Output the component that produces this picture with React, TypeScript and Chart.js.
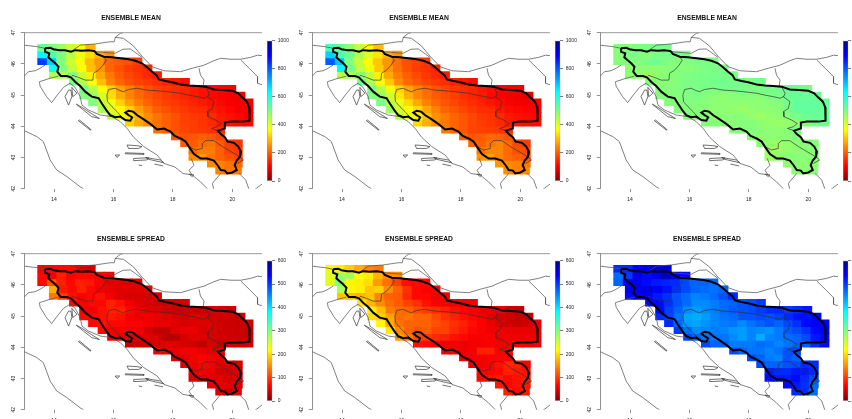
import React, { useEffect, useRef } from "react";
import { Chart, registerables } from "chart.js";

Chart.register(...registerables);

const xTickValues = [14, 16, 18, 20];
const yTickValues = [42, 43, 44, 45, 46, 47];
const meanBarTicks = [0, 200, 400, 600, 800, 1000];
const spreadBarTicks = [0, 100, 200, 300, 400, 500, 600];

const rowWest = [13.45, 13.45, 13.45, 13.84, 13.84, 14.52, 14.86, 14.86, 15.16, 15.48, 15.8, 16.4, 17.35, 17.95, 18.26, 18.54, 18.54, 19.16, 19.44];
const rowEast = [15.39, 16.02, 16.96, 17.3, 17.62, 18.56, 20.12, 20.43, 20.7, 20.7, 20.7, 20.7, 19.74, 19.74, 20.34, 20.34, 20.34, 20.34, 20.31];
const latTop = 46.63;
const latStep = 0.219;

const meanA = [
  [520, 500, 470, 420, 380, 290],
  [640, 560, 500, 440, 380, 330, 290, 260],
  [830, 680, 500, 420, 370, 300, 260, 210, 200, 190, 170],
  [620, 500, 430, 370, 300, 260, 210, 190, 170, 160, 150],
  [450, 450, 490, 420, 350, 280, 230, 200, 180, 165, 150, 135],
  [510, 440, 370, 300, 240, 210, 190, 175, 165, 155, 145, 130, 120],
  [510, 440, 370, 320, 270, 240, 210, 190, 175, 165, 155, 145, 135, 125, 120, 110, 105],
  [500, 480, 410, 330, 280, 240, 215, 195, 180, 165, 155, 145, 135, 125, 115, 110, 100, 100],
  [500, 430, 380, 320, 270, 235, 210, 190, 175, 165, 155, 145, 135, 125, 115, 105, 100, 100],
  [460, 400, 360, 320, 270, 235, 205, 190, 175, 165, 155, 150, 135, 125, 115, 105, 105],
  [430, 380, 340, 290, 250, 225, 205, 190, 175, 165, 160, 150, 135, 125, 115, 105],
  [320, 280, 250, 225, 205, 190, 175, 170, 160, 150, 135, 125, 120, 115],
  [220, 205, 190, 180, 170, 165, 160, 150],
  [200, 190, 195, 205, 200, 180],
  [200, 200, 215, 225, 200, 170, 160],
  [215, 235, 235, 205, 175, 165],
  [250, 260, 225, 205, 190, 180],
  [250, 240, 225, 215],
  [240, 225, 230],
];

const meanB = [
  [560, 530, 490, 430, 360, 300],
  [680, 560, 520, 450, 400, 340, 290, 260],
  [800, 690, 500, 430, 370, 310, 260, 220, 190, 175, 165],
  [640, 510, 430, 380, 310, 260, 220, 190, 170, 160, 145],
  [440, 450, 490, 430, 350, 280, 235, 205, 185, 165, 150, 135],
  [520, 450, 370, 310, 250, 215, 195, 180, 165, 155, 145, 130, 120],
  [510, 440, 380, 320, 275, 245, 215, 195, 180, 165, 155, 145, 130, 120, 110, 100, 95],
  [500, 480, 420, 340, 285, 245, 220, 200, 185, 170, 155, 145, 135, 120, 110, 100, 95, 90],
  [510, 440, 390, 330, 280, 240, 215, 195, 180, 165, 155, 145, 130, 120, 110, 100, 100, 105],
  [470, 410, 370, 330, 275, 240, 210, 195, 180, 165, 155, 150, 130, 120, 115, 110, 110],
  [440, 390, 350, 300, 255, 230, 210, 195, 180, 165, 160, 150, 135, 125, 120, 115],
  [330, 285, 255, 230, 210, 195, 180, 170, 160, 150, 135, 130, 125, 120],
  [230, 210, 195, 180, 175, 170, 165, 155],
  [210, 195, 200, 215, 210, 190],
  [210, 205, 225, 240, 215, 180, 170],
  [225, 245, 245, 215, 190, 185],
  [260, 270, 240, 215, 205, 195],
  [260, 250, 240, 230],
  [250, 240, 245],
];

const meanC = [
  [495, 495, 505, 505, 510, 510],
  [490, 505, 505, 495, 505, 510, 510, 505],
  [495, 495, 495, 505, 520, 505, 495, 500, 505, 505, 505],
  [485, 490, 485, 485, 490, 495, 490, 495, 505, 505, 510],
  [485, 485, 470, 485, 490, 495, 500, 505, 505, 510, 510, 505],
  [495, 490, 490, 495, 505, 505, 510, 515, 515, 510, 510, 505, 510],
  [495, 495, 500, 505, 505, 505, 505, 510, 515, 510, 505, 505, 510, 515, 520, 520, 515],
  [495, 495, 495, 500, 505, 495, 490, 485, 490, 495, 495, 495, 505, 510, 520, 525, 525, 520],
  [495, 495, 500, 495, 490, 485, 485, 485, 485, 485, 485, 490, 495, 510, 530, 530, 530, 525],
  [495, 495, 495, 490, 485, 485, 480, 475, 480, 485, 485, 490, 510, 530, 530, 530, 525],
  [495, 495, 490, 485, 490, 490, 490, 480, 470, 480, 485, 490, 510, 520, 525, 525],
  [495, 490, 490, 490, 495, 495, 485, 480, 475, 480, 485, 495, 510, 520],
  [490, 495, 495, 490, 485, 485, 490, 505],
  [490, 485, 485, 485, 490, 495],
  [490, 480, 470, 480, 485, 490, 495],
  [470, 470, 480, 485, 490, 490],
  [470, 485, 490, 490, 490, 490],
  [480, 485, 485, 485],
  [485, 485, 490],
];

const spreadA = [
  [65, 70, 70, 70, 50, 45],
  [70, 60, 85, 65, 70, 70, 65, 60],
  [70, 115, 85, 70, 85, 80, 65, 50, 50, 45, 50],
  [170, 80, 70, 85, 70, 60, 55, 50, 50, 50, 50],
  [140, 100, 75, 65, 70, 75, 60, 50, 45, 45, 45, 50],
  [70, 65, 70, 70, 85, 75, 60, 50, 45, 42, 40, 42, 45],
  [60, 60, 75, 85, 85, 70, 55, 50, 48, 42, 38, 38, 38, 38, 45, 45, 40],
  [70, 70, 75, 80, 75, 60, 55, 60, 55, 50, 45, 42, 45, 48, 42, 42, 40, 40],
  [70, 75, 70, 70, 65, 65, 60, 55, 55, 50, 45, 48, 50, 48, 40, 40, 38, 42],
  [70, 60, 60, 60, 60, 45, 35, 35, 50, 55, 55, 45, 45, 42, 42, 38, 38],
  [60, 55, 50, 50, 50, 45, 30, 28, 45, 50, 50, 45, 42, 42, 40, 38],
  [35, 38, 42, 45, 50, 50, 45, 42, 32, 45, 35, 42, 40, 42],
  [60, 55, 55, 60, 60, 55, 50, 48],
  [50, 50, 60, 65, 60, 55],
  [50, 55, 65, 60, 50, 45, 42],
  [55, 60, 55, 42, 42, 45],
  [45, 50, 50, 50, 45, 48],
  [55, 50, 50, 50],
  [48, 40, 50],
];

const spreadB = [
  [215, 210, 190, 170, 150, 140],
  [240, 280, 280, 225, 210, 175, 150, 150],
  [235, 300, 215, 210, 200, 160, 135, 105, 75, 70, 70],
  [270, 215, 210, 185, 190, 150, 125, 95, 70, 65, 65],
  [185, 180, 175, 185, 145, 125, 120, 90, 70, 70, 60, 60],
  [205, 175, 150, 130, 120, 105, 95, 75, 65, 60, 58, 58, 60],
  [210, 180, 140, 130, 125, 110, 100, 95, 85, 75, 68, 62, 55, 55, 55, 40, 35],
  [200, 190, 165, 130, 135, 125, 125, 110, 95, 85, 75, 68, 60, 50, 42, 40, 35, 35],
  [215, 170, 135, 125, 125, 125, 115, 105, 95, 85, 75, 65, 55, 45, 40, 38, 42, 55],
  [205, 150, 125, 115, 120, 105, 105, 90, 80, 70, 65, 58, 58, 55, 55, 55, 55],
  [160, 135, 110, 100, 90, 85, 75, 70, 62, 62, 62, 58, 58, 58, 58, 58],
  [75, 70, 65, 60, 60, 55, 60, 60, 62, 58, 62, 62, 58, 58],
  [58, 60, 58, 60, 85, 85, 65, 62],
  [58, 60, 62, 65, 65, 65],
  [55, 60, 65, 75, 90, 85, 65],
  [70, 65, 70, 85, 80, 75],
  [68, 75, 80, 70, 75, 80],
  [80, 68, 75, 80],
  [85, 70, 80],
];

const spreadC = [
  [510, 510, 540, 545, 555, 555],
  [470, 500, 550, 530, 545, 575, 550, 530],
  [475, 540, 545, 530, 520, 515, 510, 490, 475, 475, 470],
  [540, 545, 555, 540, 525, 505, 490, 475, 470, 465, 475],
  [530, 540, 535, 520, 505, 485, 470, 455, 460, 470, 485, 510],
  [530, 530, 505, 485, 470, 450, 450, 460, 470, 475, 485, 490, 500],
  [530, 495, 475, 450, 440, 450, 460, 470, 480, 485, 490, 500, 510, 510, 500, 510, 520],
  [510, 495, 465, 435, 430, 440, 455, 465, 470, 485, 485, 490, 485, 495, 510, 525, 525, 530],
  [510, 475, 440, 435, 445, 455, 460, 465, 450, 465, 475, 485, 475, 490, 505, 530, 540, 535],
  [500, 470, 450, 455, 460, 455, 445, 440, 455, 450, 445, 460, 480, 490, 505, 530, 540],
  [490, 475, 465, 465, 465, 450, 440, 455, 430, 455, 460, 470, 475, 490, 520, 530],
  [490, 475, 475, 460, 460, 460, 470, 465, 455, 465, 475, 480, 510, 530],
  [490, 475, 465, 465, 455, 465, 485, 490],
  [490, 475, 460, 455, 485, 475],
  [490, 475, 475, 485, 490, 510, 510],
  [520, 510, 510, 520, 520, 510],
  [530, 520, 520, 530, 510, 490],
  [530, 520, 505, 470],
  [510, 510, 470],
];

const basinOutline = [
  [13.7, 46.5], [13.87, 46.52], [13.98, 46.47], [14.18, 46.44], [14.37, 46.44], [14.57, 46.39], [14.71, 46.44], [14.94, 46.42], [15.16, 46.44], [15.36, 46.41], [15.44, 46.32], [15.67, 46.23], [15.95, 46.21], [16.23, 46.18], [16.51, 46.15], [16.74, 46.1], [16.96, 46.02], [17.13, 45.89], [17.3, 45.75], [17.45, 45.64], [17.53, 45.5], [17.75, 45.45], [17.98, 45.41], [18.26, 45.34], [18.54, 45.31], [18.82, 45.29], [19.1, 45.27], [19.38, 45.18], [19.67, 45.16], [20.0, 45.14], [20.2, 45.06], [20.34, 44.92], [20.49, 44.79], [20.57, 44.61], [20.59, 44.36], [20.57, 44.18], [20.34, 44.15], [19.95, 44.15], [19.75, 44.12], [19.75, 43.93], [19.52, 43.86], [19.61, 43.75], [19.75, 43.65], [19.84, 43.51], [20.06, 43.47], [20.2, 43.35], [20.29, 43.19], [20.26, 43.03], [20.15, 42.9], [20.08, 42.76], [20.15, 42.6], [20.0, 42.52], [19.83, 42.49], [19.75, 42.58], [19.61, 42.6], [19.5, 42.76], [19.38, 42.9], [19.16, 42.97], [18.93, 42.97], [18.71, 43.11], [18.54, 43.35], [18.43, 43.51], [18.26, 43.61], [18.06, 43.69], [17.92, 43.83], [17.7, 43.93], [17.47, 43.9], [17.25, 44.07], [17.02, 44.22], [16.79, 44.36], [16.66, 44.47], [16.51, 44.5], [16.4, 44.44], [16.51, 44.36], [16.63, 44.29], [16.57, 44.18], [16.4, 44.2], [16.23, 44.31], [16.06, 44.29], [15.89, 44.36], [15.76, 44.52], [15.61, 44.73], [15.5, 44.9], [15.27, 44.95], [15.05, 45.11], [14.88, 45.29], [14.71, 45.43], [14.57, 45.57], [14.43, 45.61], [14.23, 45.61], [14.11, 45.75], [14.15, 45.91], [14.04, 46.02], [13.92, 46.12], [13.81, 46.21], [13.84, 46.34], [13.7, 46.39], [13.7, 46.5],
];

const subBasins = [
  [[15.67, 46.23], [15.76, 46.12], [15.65, 45.96], [15.5, 45.8], [15.33, 45.7], [15.31, 45.48], [15.05, 45.48], [14.82, 45.57], [14.6, 45.64]],
  [[16.29, 44.29], [16.12, 44.47], [15.95, 44.63], [15.8, 44.79], [15.78, 45.0], [15.84, 45.18], [16.06, 45.22], [16.23, 45.14], [16.34, 45.11], [16.51, 45.18], [16.79, 45.22], [17.13, 45.16], [17.47, 45.14], [17.81, 45.11], [18.26, 45.06], [18.54, 45.0], [18.82, 44.95], [19.05, 44.9], [19.16, 44.95], [19.38, 44.79], [19.33, 44.57], [19.16, 44.47], [19.18, 44.31], [19.44, 44.2], [19.63, 44.09], [19.5, 43.99], [19.3, 43.93], [19.52, 43.86]],
  [[19.1, 45.27], [19.22, 45.06], [19.16, 44.93]],
  [[18.54, 43.35], [18.77, 43.24], [18.99, 43.29], [18.99, 43.45], [19.1, 43.54], [19.38, 43.54], [19.67, 43.35], [20.06, 43.13], [20.29, 43.0], [20.38, 42.92], [20.17, 42.81]],
];

const borders = [
  [[13.0, 46.6], [13.45, 46.55], [13.7, 46.5]],
  [[14.57, 46.39], [14.88, 46.6], [15.39, 46.64], [15.89, 46.71], [16.03, 46.71], [16.06, 46.85], [16.23, 46.98], [16.32, 47.0]],
  [[16.06, 46.85], [16.34, 46.82], [16.68, 46.57], [16.96, 46.25], [17.3, 45.91], [17.7, 45.78], [18.26, 45.75], [18.65, 45.86], [19.05, 45.96], [19.38, 46.1], [19.61, 46.18], [19.95, 46.15], [20.29, 46.15], [20.62, 46.21], [20.85, 46.28], [21.03, 46.26]],
  [[15.39, 46.39], [16.06, 46.34], [16.32, 46.47], [16.57, 46.48], [16.96, 46.21]],
  [[18.88, 45.86], [18.93, 45.64], [19.05, 45.48], [19.02, 45.29]],
  [[20.29, 46.12], [20.57, 45.86], [20.85, 45.59], [20.85, 45.38], [21.03, 45.32]],
  [[13.0, 45.61], [13.14, 45.75], [13.36, 45.78], [13.53, 45.86], [13.7, 45.96]],
  [[13.53, 45.29], [13.51, 45.43], [13.87, 45.54], [14.15, 45.61]],
  [[13.53, 45.29], [13.75, 44.95], [13.92, 44.76], [14.11, 45.0], [14.32, 45.25], [14.54, 45.38], [14.71, 45.25], [14.88, 44.95], [14.94, 44.68], [15.16, 44.52], [15.56, 44.36], [15.95, 44.31], [16.23, 44.15], [16.46, 43.93], [16.68, 43.65], [17.02, 43.35], [17.47, 43.08], [17.7, 42.81], [18.06, 42.7], [18.34, 42.49], [18.65, 42.44], [18.93, 42.22], [19.16, 42.0]],
  [[13.0, 43.86], [13.42, 43.67], [13.64, 43.51], [13.87, 42.92], [14.09, 42.6], [14.43, 42.39], [14.88, 42.06], [14.99, 42.0]],
  [[19.38, 41.96], [19.33, 42.17], [19.61, 42.49]],
  [[20.23, 42.49], [20.45, 42.28], [20.57, 41.96]],
  [[20.74, 41.96], [20.96, 42.12], [21.03, 42.17]],
  [[18.62, 42.97], [18.71, 42.75], [18.54, 42.59], [18.65, 42.44]],
];

const islands = [
  [[14.49, 45.16], [14.37, 44.95], [14.49, 44.68], [14.6, 44.95], [14.57, 45.16], [14.49, 45.16]],
  [[14.6, 45.25], [14.77, 45.06], [14.63, 44.95], [14.6, 45.25]],
  [[14.75, 44.71], [14.99, 44.52], [15.27, 44.31], [15.53, 44.25], [15.22, 44.43], [14.94, 44.61], [14.75, 44.71]],
  [[14.82, 44.18], [15.22, 43.88], [15.24, 43.9], [14.86, 44.2], [14.82, 44.18]],
  [[16.46, 43.4], [16.79, 43.38], [16.96, 43.35], [16.85, 43.29], [16.51, 43.29], [16.46, 43.4]],
  [[16.4, 43.15], [17.02, 43.13], [17.02, 43.1], [16.4, 43.12], [16.4, 43.15]],
  [[16.68, 42.97], [17.19, 42.99], [17.13, 42.92], [16.68, 42.9], [16.68, 42.97]],
  [[16.06, 43.08], [16.21, 43.08], [16.12, 43.0], [16.06, 43.08]],
  [[17.08, 43.0], [17.58, 42.92], [17.7, 42.83], [17.19, 42.94], [17.08, 43.0]],
  [[17.38, 42.79], [17.67, 42.73]],
  [[16.85, 42.76], [16.96, 42.74]],
  [[18.54, 42.47], [18.71, 42.44], [18.65, 42.39], [18.54, 42.47]],
];

const frameTop = [[13, 47], [21, 47]];

const rampStops: [number, number[]][] = [
  [0, [128, 0, 0]],
  [0.11, [255, 0, 0]],
  [0.365, [255, 255, 0]],
  [0.5, [128, 255, 128]],
  [0.635, [0, 255, 255]],
  [0.89, [0, 0, 255]],
  [1, [0, 0, 143]],
];

function rampColor(t: number): string {
  const v = Math.max(0, Math.min(1, t));
  for (let i = 1; i < rampStops.length; i++) {
    const [t1, c1] = rampStops[i];
    const [t0, c0] = rampStops[i - 1];
    if (v <= t1) {
      const f = (v - t0) / (t1 - t0);
      return `rgb(${c0.map((c, k) => Math.round(c + (c1[k] - c) * f)).join(",")})`;
    }
  }
  return "rgb(0,0,143)";
}

const FONT = "'Liberation Sans', Arial, sans-serif";
const PLOT_RIGHT_PAD = 24;
const PX_PER_LON = 29.7;

function lineDataset(points: number[][], color: string, width: number, order: number, clip?: boolean) {
  return {
    type: "line" as const,
    data: points.map(([x, y]) => ({ x, y })),
    borderColor: color,
    backgroundColor: color,
    borderWidth: width,
    pointRadius: 0,
    tension: 0,
    fill: false,
    order,
    ...(clip === false ? { clip: false } : {}),
  };
}

function cellDatasets(rows: number[][], max: number) {
  return rows.map((vals, r) => {
    const step = (rowEast[r] - rowWest[r]) / vals.length;
    return {
      type: "bar" as const,
      data: vals.map((_, c) => ({
        x: rowWest[r] + step * (c + 0.5),
        y: [latTop - latStep * (r + 1), latTop - latStep * r],
      })),
      backgroundColor: vals.map((v) => rampColor(v / max)),
      borderWidth: 0,
      barThickness: step * PX_PER_LON,
      grouped: false,
      inflateAmount: 0.35,
      order: 10,
    };
  });
}

function MapPanel({ title, rows, max, left, top }: { title: string; rows: number[][]; max: number; left: number; top: number }) {
  const ref = useRef<HTMLCanvasElement>(null);
  useEffect(() => {
    const chart = new Chart(ref.current as HTMLCanvasElement, {
      type: "bar",
      data: {
        datasets: [
          lineDataset(basinOutline, "#000000", 2, 0),
          ...subBasins.map((s) => lineDataset(s, "#333333", 0.7, 1)),
          ...borders.map((s) => lineDataset(s, "#555555", 0.75, 2)),
          ...islands.map((s) => lineDataset(s, "#333333", 0.7, 2)),
          lineDataset(frameTop, "#909090", 0.9, 3, false),
          ...cellDatasets(rows, max),
        ] as any,
      },
      options: {
        responsive: false,
        animation: false,
        events: [],
        layout: { padding: { top: 0, left: 0, right: PLOT_RIGHT_PAD, bottom: 0 } },
        plugins: {
          legend: { display: false },
          tooltip: { enabled: false },
          title: {
            display: true,
            text: title,
            color: "#111111",
            font: { family: FONT, size: 6.8, weight: "bold", lineHeight: 1.2 },
            padding: { top: 14.2, bottom: 10.34 },
          },
        },
        scales: {
          x: {
            type: "linear",
            min: 13,
            max: 21,
            offset: false,
            afterBuildTicks: (s: any) => {
              s.ticks = xTickValues.map((value) => ({ value }));
            },
            afterFit: (s: any) => {
              s.height = 21.3;
            },
            grid: { display: true, drawOnChartArea: false, drawTicks: true, tickLength: 3.5, color: "#666666", lineWidth: 0.7, offset: false },
            border: { display: false },
            ticks: {
              color: "#222222",
              font: { family: FONT, size: 5 },
              padding: 4,
              maxRotation: 0,
              minRotation: 0,
              autoSkip: false,
              callback: (v: any) => String(v),
            },
          },
          y: {
            type: "linear",
            min: 42,
            max: 47,
            beginAtZero: false,
            afterBuildTicks: (s: any) => {
              s.ticks = yTickValues.map((value) => ({ value }));
            },
            afterFit: (s: any) => {
              s.width = 24.3;
            },
            grid: { display: true, drawOnChartArea: false, drawTicks: true, tickLength: 3.6, color: "#777777", lineWidth: 0.8 },
            border: { display: true, color: "#909090", width: 1 },
            ticks: {
              color: "#222222",
              font: { family: FONT, size: 5 },
              padding: 3.9,
              minRotation: 90,
              maxRotation: 90,
              crossAlign: "center",
              autoSkip: false,
              callback: (v: any) => String(v),
            },
          },
        },
      } as any,
    });
    return () => chart.destroy();
  }, [title, rows, max]);
  return (
    <canvas
      ref={ref}
      width={286}
      height={210}
      style={{ position: "absolute", left, top, width: 286, height: 210, filter: "blur(0.4px)" }}
    />
  );
}

function ColorBar({ max, ticks, left, top }: { max: number; ticks: number[]; left: number; top: number }) {
  const ref = useRef<HTMLCanvasElement>(null);
  useEffect(() => {
    const chart = new Chart(ref.current as HTMLCanvasElement, {
      type: "bar",
      data: {
        labels: [""],
        datasets: [
          {
            data: [[0, max]],
            barPercentage: 1,
            categoryPercentage: 1,
            borderWidth: 0.8,
            borderSkipped: false,
            borderColor: "#9a9a9a",
            backgroundColor: (c: any) => {
              const area = c.chart.chartArea;
              if (!area) return "#000000";
              const g = c.chart.ctx.createLinearGradient(0, area.bottom, 0, area.top);
              rampStops.forEach(([t, rgb]) => g.addColorStop(t, `rgb(${rgb.join(",")})`));
              return g;
            },
          },
        ],
      },
      options: {
        responsive: false,
        animation: false,
        events: [],
        layout: { padding: { top: 6.7, bottom: 13, left: 5, right: 0.7 } },
        plugins: { legend: { display: false }, tooltip: { enabled: false } },
        scales: {
          x: { display: false },
          y: {
            position: "right",
            min: 0,
            max,
            afterBuildTicks: (s: any) => {
              s.ticks = ticks.map((value) => ({ value }));
            },
            afterFit: (s: any) => {
              s.width = 30;
            },
            grid: { display: true, drawOnChartArea: false, drawTicks: true, tickLength: 2.8, color: "#444444", lineWidth: 0.7 },
            border: { display: false },
            ticks: {
              color: "#222222",
              font: { family: FONT, size: 5 },
              padding: 2.7,
              autoSkip: false,
              callback: (v: any) => String(v),
            },
          },
        },
      } as any,
    });
    return () => chart.destroy();
  }, [max, ticks]);
  return (
    <canvas
      ref={ref}
      width={41}
      height={160}
      style={{ position: "absolute", left, top, width: 41, height: 160, filter: "blur(0.4px)" }}
    />
  );
}

const panels = [
  { title: "ENSEMBLE MEAN", rows: meanA, max: 1000, ticks: meanBarTicks, left: 0, top: 0, barTop: 34 },
  { title: "ENSEMBLE MEAN", rows: meanB, max: 1000, ticks: meanBarTicks, left: 288, top: 0, barTop: 34 },
  { title: "ENSEMBLE MEAN", rows: meanC, max: 1000, ticks: meanBarTicks, left: 576, top: 0, barTop: 34 },
  { title: "ENSEMBLE SPREAD", rows: spreadA, max: 600, ticks: spreadBarTicks, left: 0, top: 221, barTop: 254 },
  { title: "ENSEMBLE SPREAD", rows: spreadB, max: 600, ticks: spreadBarTicks, left: 288, top: 221, barTop: 254 },
  { title: "ENSEMBLE SPREAD", rows: spreadC, max: 600, ticks: spreadBarTicks, left: 576, top: 221, barTop: 254 },
];

export default function App() {
  return (
    <div style={{ position: "fixed", left: 0, top: 0, width: 852, height: 419, overflow: "hidden", background: "#ffffff" }}>
      {panels.map((p, i) => (
        <React.Fragment key={i}>
          <MapPanel title={p.title} rows={p.rows} max={p.max} left={p.left} top={p.top} />
          <ColorBar max={p.max} ticks={p.ticks} left={p.left + 262} top={p.barTop} />
        </React.Fragment>
      ))}
    </div>
  );
}
